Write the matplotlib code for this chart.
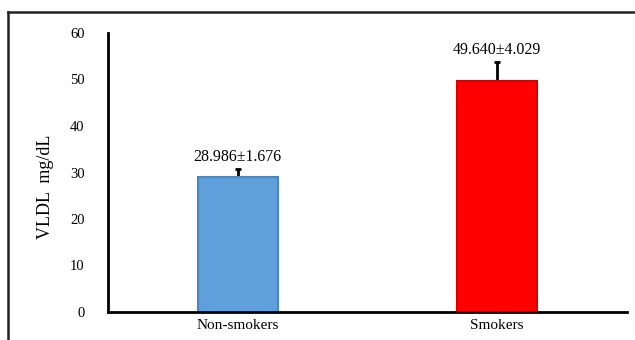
import matplotlib.pyplot as plt
from matplotlib.lines import Line2D

groups = ["Non-smokers", "Smokers"]
means = [28.986, 49.640]
sds = [1.676, 4.029]
labels = ["28.986±1.676", "49.640±4.029"]
bar_colors = ["#5FA0DC", "#FF0000"]
edge_colors = ["#4A86C0", "#D80000"]

plt.rcParams["font.family"] = ["Liberation Serif", "DejaVu Serif"]

fig = plt.figure(figsize=(6.35, 3.4), dpi=100)
W, H = 635, 340
ax = fig.add_axes([108 / W, 1 - 312 / H, (627 - 108) / W, (312 - 33) / H])

x = list(range(len(groups)))
# error bars drawn behind the bars so only the upper whisker shows
ax.errorbar(x, means, yerr=[[0] * len(sds), sds], fmt="none",
            ecolor="black", elinewidth=2, capsize=2.2, capthick=2, zorder=1)
ax.bar(x, means, width=0.31, color=bar_colors, edgecolor=edge_colors,
       linewidth=1.5, zorder=2)

for xi, m, s, lab in zip(x, means, sds, labels):
    ax.annotate(lab, (xi, m + s), textcoords="offset points", xytext=(0, 3),
                ha="center", va="bottom", fontsize=11.5)

ax.set_xlim(-0.5, 1.5)
ax.set_ylim(0, 60)
ax.set_yticks(range(0, 61, 10))
ax.set_xticks(x)
ax.set_xticklabels(groups, fontsize=11)
ax.tick_params(axis="y", length=0, pad=17, labelsize=10.5)
ax.tick_params(axis="x", length=0, pad=5)
for side in ["top", "right"]:
    ax.spines[side].set_visible(False)
for side in ["left", "bottom"]:
    ax.spines[side].set_linewidth(2)
    ax.spines[side].set_color("black")

fig.text(45 / W, 1 - 187 / H, "VLDL  mg/dL", rotation=90, ha="center",
         va="center", fontsize=13)

# outer frame (top and left only visible)
fig.add_artist(Line2D([8 / W, 1], [1 - 12 / H, 1 - 12 / H], color="#222222",
                      linewidth=1.8, transform=fig.transFigure))
fig.add_artist(Line2D([8 / W, 8 / W], [0, 1 - 12 / H], color="#222222",
                      linewidth=1.8, transform=fig.transFigure))

fig.savefig("out.png", dpi=100)
